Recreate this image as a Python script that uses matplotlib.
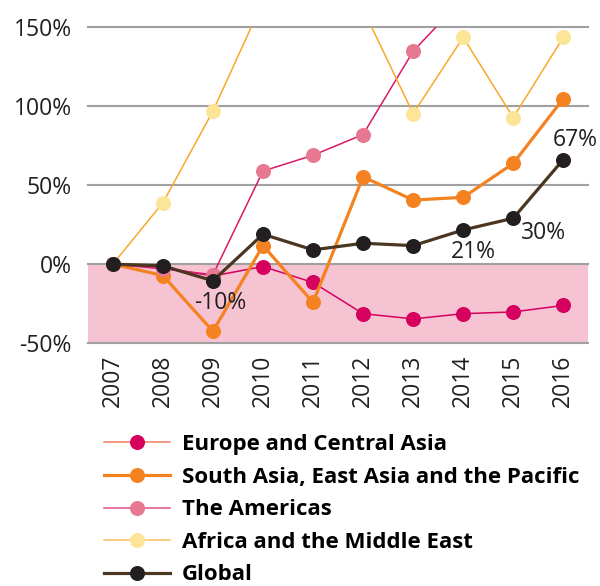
import matplotlib.pyplot as plt
from matplotlib.lines import Line2D

plt.rcParams['font.family'] = ['Open Sans', 'DejaVu Sans']

years = [2007, 2008, 2009, 2010, 2011, 2012, 2013, 2014, 2015, 2016]

europe = [0, -2, -7.5, -1.5, -11.6, -31.3, -34.6, -31.3, -30.2, -26.1]
south_asia = [0, -7.2, -42.4, 11.7, -24.2, 55.2, 40.5, 42.2, 63.6, 104.5]
americas = [0, -3, -6.7, 58.8, 68.8, 81.9, 134.5, 168, 185, 200]
africa = [0, 38.8, 96.7, 166, 175, 161, 95.1, 143.3, 92.6, 143.3]
global_ = [0, -1.1, -10.5, 18.9, 9, 13.2, 11.7, 21.6, 29, 66.1]

labels = ["Europe and Central Asia", "South Asia, East Asia and the Pacific",
          "The Americas", "Africa and the Middle East", "Global"]

# (line colour, marker colour, line width, legend line colour)
styles = [
    ("#d6005f", "#d6005f", 1.1, "#f07f5e"),
    ("#f58220", "#f58220", 2.3, "#f58220"),
    ("#d9186a", "#e87891", 1.1, "#e0508a"),
    ("#f9a82a", "#fde597", 1.1, "#fbc060"),
    ("#4b3621", "#231f20", 2.3, "#4b3621"),
]

fig = plt.figure(figsize=(6, 5.86), dpi=100)
ax = fig.add_axes([0.1472, 0.4142, 0.8333, 0.5402])

ax.axhspan(-50, 0, color="#f5c3d1", zorder=0)
for v in [-50, 0, 50, 100, 150]:
    ax.axhline(v, color="#a0a0a0", lw=1.5, zorder=1, clip_on=False)

series = [europe, south_asia, americas, africa, global_]
handles = []
for s, (lc, mc, lw, legc) in zip(series, styles):
    ax.plot(years, s, color=lc, lw=lw, marker="o", markersize=9.8,
            markerfacecolor=mc, markeredgecolor=mc, zorder=3)
    handles.append(Line2D([], [], color=legc, lw=lw, marker="o", markersize=9.8,
                          markerfacecolor=mc, markeredgecolor=mc))

# value labels on the global series
txt = dict(fontsize=16.5, ha="center", va="center", color="#231f20", zorder=4, clip_on=False)
ax.text(2009.15, -24.6, "-10%", **txt)
ax.text(2014.2, 7.9, "21%", **txt)
ax.text(2015.61, 19.5, "30%", **txt)
ax.text(2016.23, 78.3, "67%", **txt)

ax.set_xlim(2006.51, 2016.5)
ax.set_ylim(-50, 150)
ax.set_xticks(years)
ax.set_xticklabels([str(y) for y in years], rotation=90, fontsize=16.5)
ax.set_yticks([-50, 0, 50, 100, 150])
ax.set_yticklabels(["-50%", "0%", "50%", "100%", "150%"], fontsize=16.5)
ax.tick_params(length=0, pad=8.5, colors="#231f20")
ax.tick_params(axis="y", pad=12)
for sp in ax.spines.values():
    sp.set_visible(False)

fig.legend(handles, labels, loc="upper left", bbox_to_anchor=(0.173, 0.259),
           frameon=False, handlelength=3.0, handletextpad=0.5, labelspacing=0.52,
           borderpad=0, borderaxespad=0,
           prop={"weight": "bold", "size": 16})

fig.savefig("out.png", dpi=100)
